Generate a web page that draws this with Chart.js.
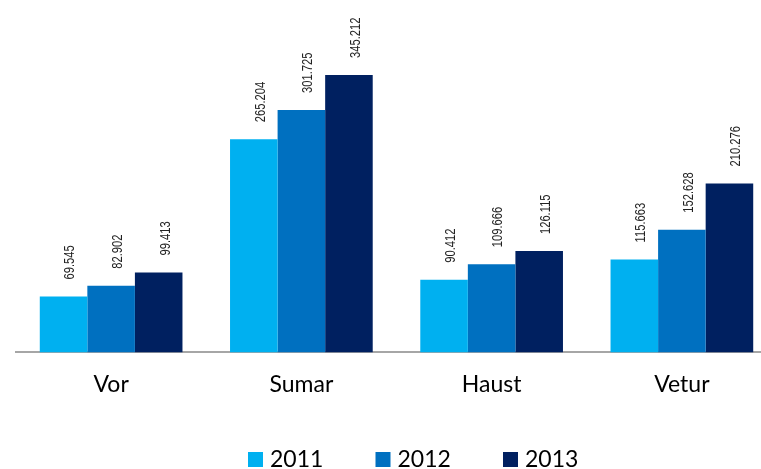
<!DOCTYPE html>
<html>
<head>
<meta charset="utf-8">
<script src="https://cdn.jsdelivr.net/npm/chart.js@4"></script>
<style>
  body { margin: 0; overflow: hidden; background: #fff; }
  #wrap { width: 777px; height: 469px; position: relative; }
</style>
</head>
<body>
<div id="wrap"><canvas id="myChart"></canvas></div>
<script>
var categories = ["Vor", "Sumar", "Haust", "Vetur"];
var seriesNames = ["2011", "2012", "2013"];
var values2011 = [69545, 265204, 90412, 115663];
var values2012 = [82902, 301725, 109666, 152628];
var values2013 = [99413, 345212, 126115, 210276];
var barColors = ["#00b0f0", "#0070c0", "#002060"];

function fmt(v) {
  return String(v).replace(/\B(?=(\d{3})+(?!\d))/g, ".");
}

// rotated value labels above each bar (squeezed to look like a narrow font)
var valueLabels = {
  id: 'valueLabels',
  afterDatasetsDraw: function (chart) {
    var ctx = chart.ctx;
    ctx.save();
    ctx.font = "14px 'Liberation Sans', Arial, sans-serif";
    ctx.fillStyle = "#222";
    ctx.textAlign = "left";
    ctx.textBaseline = "middle";
    chart.data.datasets.forEach(function (ds, i) {
      chart.getDatasetMeta(i).data.forEach(function (bar, j) {
        ctx.save();
        ctx.translate(bar.x + 7, bar.y - 17);
        ctx.rotate(-Math.PI / 2);
        ctx.scale(0.8, 1);
        ctx.fillText(fmt(ds.data[j]), 0, 0);
        ctx.restore();
      });
    });
    ctx.restore();
  }
};

// legend drawn at the bottom, wide spacing like the original
var bottomLegend = {
  id: 'bottomLegend',
  afterDraw: function (chart) {
    var ctx = chart.ctx;
    var startX = 248, step = 127.5, top = 452;
    ctx.save();
    ctx.font = "23px Lato, sans-serif";
    ctx.textBaseline = "middle";
    chart.data.datasets.forEach(function (ds, i) {
      var x = startX + i * step;
      ctx.fillStyle = ds.backgroundColor;
      ctx.fillRect(x, top, 15, 15);
      ctx.fillStyle = "#000";
      ctx.fillText(ds.label, x + 22, top + 8);
    });
    ctx.restore();
  }
};

new Chart("myChart", {
  type: "bar",
  data: {
    labels: categories,
    datasets: [
      { label: seriesNames[0], data: values2011, backgroundColor: barColors[0] },
      { label: seriesNames[1], data: values2012, backgroundColor: barColors[1] },
      { label: seriesNames[2], data: values2013, backgroundColor: barColors[2] }
    ]
  },
  plugins: [valueLabels, bottomLegend],
  options: {
    responsive: true,
    maintainAspectRatio: false,
    animation: false,
    layout: { padding: { left: 16, right: 0, top: 31, bottom: 53 } },
    datasets: {
      bar: { categoryPercentage: 0.75, barPercentage: 1, borderWidth: 0 }
    },
    plugins: {
      legend: { display: false },
      tooltip: { enabled: false }
    },
    scales: {
      x: {
        grid: { display: false, drawTicks: false },
        border: { display: true, color: "#a6a6a6", width: 2 },
        ticks: {
          color: "#000",
          padding: 18,
          font: { family: "Lato", size: 23 }
        }
      },
      y: {
        display: false,
        min: 0,
        max: 400000
      }
    }
  }
});
</script>
</body>
</html>
